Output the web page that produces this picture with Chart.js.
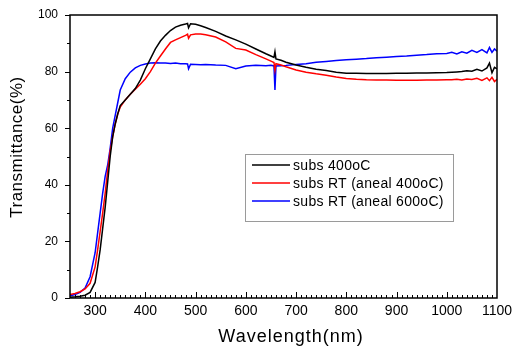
<!DOCTYPE html>
<html>
<head>
<meta charset="utf-8">
<script src="https://cdn.jsdelivr.net/npm/chart.js@4"></script>
<style>
  html, body { margin: 0; padding: 0; background: #fff; }
  #wrap { width: 516px; height: 347px; position: relative; }
</style>
</head>
<body>
<div id="wrap"><canvas id="grafico" width="516" height="347"></canvas></div>
<script>
// --- DADOS ---
const comprimentos = [250,260,270,280,290,300,305,310,315,320,325,330,335,340,345,350,360,370,380,390,400,410,420,430,440,450,460,470,480,484,486,490,500,510,520,540,560,580,600,620,640,650,656,658,660,670,680,700,720,740,760,780,800,820,840,860,880,900,920,940,960,980,1000,1010,1020,1030,1040,1050,1060,1070,1080,1085,1090,1095,1100];

const subs400 = [0.3,0.4,0.6,1.0,2.0,5.5,11,17,24.5,32,41,50,57,61.5,65,68,70,72,74,77,81,84.5,88,90.8,92.8,94.5,95.7,96.4,96.8,97,95.5,96.9,96.7,96.2,95.6,94.2,92.6,91.2,89.7,88.0,86.3,85.5,85,87,84.5,84,83.3,82.3,81.5,80.8,80.4,79.8,79.4,79.4,79.3,79.3,79.3,79.4,79.4,79.5,79.5,79.6,79.7,79.8,79.9,80.0,80.3,80.1,80.8,80.2,81.3,83,79.6,81.5,81];

const rtAneal400 = [1.2,1.6,2.2,3.2,5.2,11,17,23.5,30,37,45,52,57,61.5,65,67.5,70,72,73.8,75.5,77.5,80,83,85.5,88,90.3,91.2,92,92.8,93.2,91.8,93,93.3,93.3,93,92.2,90.5,88.2,87.6,86,84.5,83.7,83.2,80.5,82.8,82.3,81.7,80.6,79.8,79.2,78.7,78.1,77.6,77.3,77.1,77.0,77.0,76.9,76.9,76.9,77.0,77.0,77.1,77.1,77.3,77.0,77.4,77.2,77.6,76.9,77.8,76.8,78,76.5,77.3];

const rtAneal600 = [0.8,1.2,2.0,3.5,7.5,16,23,30,37,43,47,53,60,64.5,69,73.5,77.5,79.8,81.3,82.2,82.7,83,83.1,83,83,82.9,83,82.8,82.8,82.7,81,82.6,82.5,82.4,82.5,82.3,82.2,81,82,82.2,82.1,82.2,82,73.5,82,82.1,82.2,82.5,82.8,83.3,83.6,83.9,84.2,84.4,84.6,84.9,85.1,85.3,85.5,85.8,86,86.3,86.4,86.8,86.2,87,86.5,87.5,86.8,87.8,86.6,88.5,86.8,88,87.2];

const nomesSeries = ["subs 400oC", "subs RT (aneal 400oC)", "subs RT (aneal 600oC)"];
const coresSeries = ["#000000", "#ff0000", "#0000ff"];
const ticksX = [300,400,500,600,700,800,900,1000,1100];
const ticksY = [0,20,40,60,80,100];

function pontos(valores) {
    return comprimentos.map((c, i) => ({ x: c, y: valores[i] }));
}

// --- MOLDURA, TICKS, TITULOS E LEGENDA ---
const moldura = {
    id: 'moldura',
    afterDraw(chart) {
        const ctx = chart.ctx;
        const a = chart.chartArea;
        const sx = chart.scales.x, sy = chart.scales.y;
        ctx.save();
        ctx.strokeStyle = '#000';
        ctx.lineWidth = 1.5;
        ctx.strokeRect(a.left, a.top, a.right - a.left, a.bottom - a.top);

        ctx.lineWidth = 1;
        ctx.beginPath();
        // x: ticks para dentro, menores a cada 10 nm
        for (let v = 260; v < 1100; v += 10) {
            const px = Math.round(sx.getPixelForValue(v)) + 0.5;
            const len = v % 100 === 0 ? 6 : 3;
            ctx.moveTo(px, a.bottom);
            ctx.lineTo(px, a.bottom - len);
        }
        // y: ticks para fora, menores a cada 10
        for (let v = 0; v <= 100; v += 10) {
            const py = Math.round(sy.getPixelForValue(v)) + 0.5;
            const len = v % 20 === 0 ? 5 : 3;
            ctx.moveTo(a.left, py);
            ctx.lineTo(a.left - len, py);
        }
        ctx.stroke();

        // titulos dos eixos
        ctx.fillStyle = '#000';
        ctx.font = '18px "Liberation Sans", Arial, sans-serif';
        ctx.letterSpacing = '1px';
        ctx.textAlign = 'center';
        ctx.textBaseline = 'middle';
        ctx.fillText('Wavelength(nm)', 291, 337);
        ctx.translate(17, 147);
        ctx.rotate(-Math.PI / 2);
        ctx.letterSpacing = '0.5px';
        ctx.font = '17px "Liberation Sans", Arial, sans-serif';
        ctx.fillText('Transmittance(%)', 0, 0);
        ctx.restore();

        // legenda dentro do grafico
        ctx.save();
        ctx.fillStyle = '#fff';
        ctx.fillRect(245.5, 154.5, 208, 67);
        ctx.strokeStyle = '#9a9a9a';
        ctx.lineWidth = 1;
        ctx.strokeRect(245.5, 154.5, 208, 67);
        ctx.font = '14px "Liberation Sans", Arial, sans-serif';
        ctx.letterSpacing = '0.3px';
        ctx.textBaseline = 'middle';
        chart.data.datasets.forEach((d, i) => {
            const y = 165 + i * 18;
            ctx.strokeStyle = d.borderColor;
            ctx.lineWidth = 1.5;
            ctx.beginPath();
            ctx.moveTo(252, y);
            ctx.lineTo(290, y);
            ctx.stroke();
            ctx.fillStyle = '#000';
            ctx.fillText(d.label, 293, y + 1);
        });
        ctx.restore();
    }
};

const ctx = document.getElementById('grafico').getContext('2d');
new Chart(ctx, {
    type: 'line',
    data: {
        datasets: [subs400, rtAneal400, rtAneal600].map((s, i) => ({
            label: nomesSeries[i],
            data: pontos(s),
            borderColor: coresSeries[i],
            borderWidth: 1.5,
            pointRadius: 0,
            tension: 0,
            fill: false
        }))
    },
    options: {
        responsive: false,
        animation: false,
        layout: { padding: { top: 15, right: 19, left: 0, bottom: 0 } },
        plugins: { legend: { display: false }, tooltip: { enabled: false } },
        scales: {
            x: {
                type: 'linear',
                min: 250, max: 1100,
                grid: { display: false, drawTicks: false },
                border: { display: false },
                afterBuildTicks: s => { s.ticks = ticksX.map(v => ({ value: v })); },
                afterFit: s => { s.height = 49; s.paddingLeft = 0; s.paddingRight = 0; },
                ticks: { color: '#000', padding: 5, maxRotation: 0, callback: v => String(v), font: { size: 14, family: '"Liberation Sans", Arial' } }
            },
            y: {
                min: 0, max: 100,
                grid: { display: false, drawTicks: false },
                border: { display: false },
                afterBuildTicks: s => { s.ticks = ticksY.map(v => ({ value: v })); },
                afterFit: s => { s.width = 70; s.paddingTop = 0; s.paddingBottom = 0; },
                ticks: { color: '#000', padding: 12, callback: v => String(v), font: { size: 12, family: '"Liberation Sans", Arial' } }
            }
        }
    },
    plugins: [moldura]
});
</script>
</body>
</html>
